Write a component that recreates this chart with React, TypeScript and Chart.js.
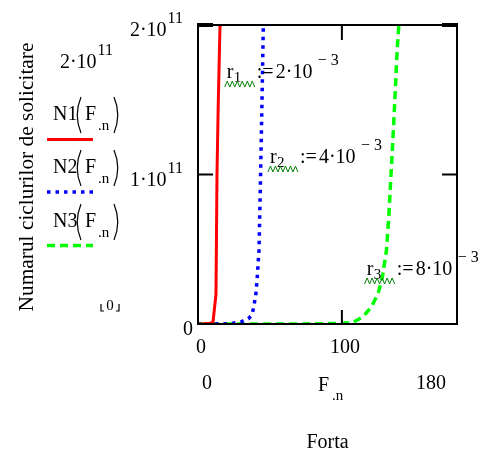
import React, { useEffect, useRef } from "react";
import { Chart, registerables } from "chart.js";

Chart.register(...registerables);

// ---- data (N in cycles, F in force units) ----
const forceN1 = [0, 4, 8, 10.4, 12.5, 13.2, 14, 15.3, 15.6];
const cyclesN1 = [0, 0.002e11, 0.005e11, 0.01e11, 0.2e11, 1.0e11, 1.44e11, 2.0e11, 2.2e11];

const forceN2 = [0, 5, 10, 15, 20, 25, 30, 35, 37.5, 38.8, 40.3, 41.2, 42.4, 43.5, 44.5, 45.4, 46];
const cyclesN2 = [0, 0, 0.0005e11, 0.001e11, 0.003e11, 0.007e11, 0.015e11, 0.035e11, 0.06e11, 0.116e11, 0.207e11, 0.316e11, 0.495e11, 1.0e11, 1.5e11, 2.0e11, 2.3e11];

const forceN3 = [0, 20, 40, 60, 80, 100, 107.6, 114.8, 120.6, 125.2, 128.2, 131, 132.6, 133.8, 135.2, 136.8, 138.4, 139.6, 140.5];
const cyclesN3 = [0, 0, 0, 0, 0.001e11, 0.005e11, 0.01e11, 0.049e11, 0.116e11, 0.205e11, 0.316e11, 0.495e11, 0.718e11, 0.941e11, 1.186e11, 1.498e11, 1.833e11, 2.0e11, 2.15e11];

const seriesNames = ["N1", "N2", "N3"];
const xMin = 0;
const xMax = 180;
const yMin = 0;
const yMax = 2e11;
const xTickValues = [0, 100];
const xTickLabels = ["0", "100"];
const yTickValues = [0, 1e11, 2e11];
const yTickBases = ["0", "1·10", "2·10"];
const yTickExps = ["", "11", "11"];
const rateSubs = ["1", "2", "3"];
const rateValues = ["2·10", "4·10", "8·10"];
const rateExp = "− 3";
const rateAnchorF = [20, 50, 117.2];
const rateAnchorN = [1.645e11, 1.077e11, 0.328e11];
const xTitle = "Forta";
const yTitle = "Numarul ciclurilor de solicitare";

const FONT = '"Liberation Serif", "Times New Roman", serif';

function toPoints(xs: number[], ys: number[]) {
  return xs.map((x, i) => ({ x, y: ys[i] }));
}

function setFont(ctx: CanvasRenderingContext2D, size: number) {
  ctx.font = `${size}px ${FONT}`;
}

function drawText(ctx: CanvasRenderingContext2D, s: string, x: number, y: number, size: number, align: CanvasTextAlign = "left") {
  setFont(ctx, size);
  ctx.textAlign = align;
  ctx.textBaseline = "alphabetic";
  ctx.fillText(s, x, y);
  return ctx.measureText(s).width;
}

function drawPowRight(ctx: CanvasRenderingContext2D, base: string, exp: string, xRight: number, y: number) {
  setFont(ctx, 20);
  const wb = ctx.measureText(base).width;
  setFont(ctx, 16);
  const we = exp ? ctx.measureText(exp).width + 1 : 0;
  const start = xRight - wb - we;
  drawText(ctx, base, start, y, 20);
  if (exp) drawText(ctx, exp, start + wb + 1, y - 13, 16);
}

function paren(ctx: CanvasRenderingContext2D, x: number, top: number, bottom: number, open: boolean) {
  const mid = (top + bottom) / 2;
  ctx.beginPath();
  if (open) {
    ctx.moveTo(x + 5, top);
    ctx.quadraticCurveTo(x - 2.5, mid, x + 5, bottom);
  } else {
    ctx.moveTo(x, top);
    ctx.quadraticCurveTo(x + 7.5, mid, x, bottom);
  }
  ctx.lineWidth = 1.2;
  ctx.strokeStyle = "#000";
  ctx.stroke();
}

function squiggle(ctx: CanvasRenderingContext2D, x0: number, x1: number, y: number) {
  ctx.beginPath();
  ctx.strokeStyle = "#008000";
  ctx.lineWidth = 1;
  ctx.setLineDash([]);
  let up = true;
  ctx.moveTo(x0, y + 6);
  for (let x = x0 + 2.5; x <= x1; x += 2.5) {
    ctx.lineTo(x, up ? y : y + 6);
    up = !up;
  }
  ctx.stroke();
}

const mathcadPlugin = {
  id: "mathcadDecor",
  afterDraw(chart: any) {
    const ctx: CanvasRenderingContext2D = chart.ctx;
    const { left, right, top, bottom } = chart.chartArea;
    const xs = chart.scales.x;
    const ys = chart.scales.y;
    ctx.save();
    ctx.fillStyle = "#000";

    // y axis tick labels
    yTickValues.forEach((v, i) => {
      const py = ys.getPixelForValue(v);
      if (yTickExps[i]) drawPowRight(ctx, yTickBases[i], yTickExps[i], left - 15, py + 11);
      else drawText(ctx, yTickBases[i], left - 5, py + 11, 20, "right");
    });

    // x axis tick labels
    xTickValues.forEach((v, i) => {
      drawText(ctx, xTickLabels[i], xs.getPixelForValue(v) + 3, bottom + 29, 20, "center");
    });
    // limits row
    drawText(ctx, String(xMin), left + 4, bottom + 65, 20, "left");
    drawText(ctx, String(xMax), right - 11, bottom + 65, 20, "right");
    const wF = drawText(ctx, "F", 318, bottom + 67, 20, "left");
    drawText(ctx, ".n", 318 + wF + 3, bottom + 76, 15, "left");
    // x title
    drawText(ctx, xTitle, (left + right) / 2, bottom + 124, 20, "center");

    // y title rotated
    ctx.save();
    ctx.translate(33, 177);
    ctx.rotate(-Math.PI / 2);
    setFont(ctx, 20);
    const tw = ctx.measureText(yTitle).width;
    const ts = 20 * 269 / tw;
    drawText(ctx, yTitle, 0, 0, ts, "center");
    ctx.restore();

    // left "legend" column
    drawPowRight(ctx, "2·10", "11", 113, 68);
    const rowBase = [120, 173, 227];
    const rowLine = [139.5, 192, 245.5];
    chart.data.datasets.forEach((ds: any, i: number) => {
      const b = rowBase[i];
      ctx.fillStyle = "#000";
      drawText(ctx, seriesNames[i], 53, b, 20, "left");
      paren(ctx, 76, b - 23, b + 13, true);
      drawText(ctx, "F", 85, b, 20, "left");
      drawText(ctx, ".n", 98, b + 10, 15, "left");
      paren(ctx, 114, b - 23, b + 13, false);
      ctx.beginPath();
      ctx.strokeStyle = ds.borderColor;
      ctx.lineWidth = ds.borderWidth;
      ctx.setLineDash(ds.borderDash || []);
      ctx.moveTo(47, rowLine[i]);
      ctx.lineTo(93, rowLine[i]);
      ctx.stroke();
      ctx.setLineDash([]);
    });
    // lower limit placeholder
    ctx.fillStyle = "#000";
    drawText(ctx, String(yMin), 110, 310, 15, "center");
    ctx.strokeStyle = "#000";
    ctx.lineWidth = 1.2;
    ctx.beginPath();
    ctx.moveTo(101, 304); ctx.lineTo(101, 311); ctx.lineTo(104, 311);
    ctx.moveTo(119, 304); ctx.lineTo(119, 311); ctx.lineTo(116, 311);
    ctx.stroke();

    // rate annotations
    rateValues.forEach((val, i) => {
      const x = xs.getPixelForValue(rateAnchorF[i]);
      const y = ys.getPixelForValue(rateAnchorN[i]);
      ctx.fillStyle = "#000";
      drawText(ctx, "r", x, y, 20, "left");
      drawText(ctx, rateSubs[i], x + 7, y + 4, 15, "left");
      drawText(ctx, ":=", x + 30, y, 20, "left");
      drawText(ctx, val, x + 49, y, 20, "left");
      drawText(ctx, rateExp, x + 91, y - 13, 16, "left");
      squiggle(ctx, x - 2, x + 29, y + 3);
    });

    // frame and ticks
    ctx.strokeStyle = "#000";
    ctx.setLineDash([]);
    ctx.lineWidth = 2;
    ctx.strokeRect(left, top, right - left, bottom - top);
    ctx.beginPath();
    [...xTickValues, xMax].forEach((v) => {
      const px = xs.getPixelForValue(v);
      ctx.moveTo(px, top); ctx.lineTo(px, top + 15);
      ctx.moveTo(px, bottom); ctx.lineTo(px, bottom - 14);
    });
    yTickValues.forEach((v) => {
      const py = ys.getPixelForValue(v);
      ctx.moveTo(left, py); ctx.lineTo(left + 15, py);
      ctx.moveTo(right, py); ctx.lineTo(right - 15, py);
    });
    ctx.stroke();
    ctx.fillRect(left - 1, top - 2, 16, 4);
    ctx.fillRect(right - 15, top - 2, 16, 4);
    ctx.restore();
  },
};

export default function App() {
  const ref = useRef<HTMLCanvasElement | null>(null);
  useEffect(() => {
    if (!ref.current) return;
    const chart = new Chart(ref.current, {
      type: "line",
      data: {
        datasets: [
          {
            label: "N1",
            data: toPoints(forceN1, cyclesN1),
            borderColor: "#ff0000",
            borderWidth: 3,
            pointRadius: 0,
            tension: 0,
            fill: false,
          },
          {
            label: "N2",
            data: toPoints(forceN2, cyclesN2),
            borderColor: "#0000ff",
            borderWidth: 3.5,
            borderDash: [3.5, 5],
            pointRadius: 0,
            tension: 0,
            fill: false,
          },
          {
            label: "N3",
            data: toPoints(forceN3, cyclesN3),
            borderColor: "#00ff00",
            borderWidth: 3.5,
            borderDash: [8, 5],
            pointRadius: 0,
            tension: 0,
            fill: false,
          },
        ],
      },
      options: {
        responsive: false,
        devicePixelRatio: 1,
        animation: false,
        layout: { padding: { left: 198, top: 25, right: 24, bottom: 127 } },
        scales: {
          x: { type: "linear", min: xMin, max: xMax, display: false },
          y: { type: "linear", min: yMin, max: yMax, display: false },
        },
        plugins: {
          legend: { display: false },
          tooltip: { enabled: false },
        },
      },
      plugins: [mathcadPlugin],
    } as any);
    return () => chart.destroy();
  }, []);
  return (
    <div style={{ position: "absolute", left: 0, top: 0, width: 481, height: 451, background: "#fff" }}>
      <canvas ref={ref} width={481} height={451} style={{ width: 481, height: 451, display: "block" }} />
    </div>
  );
}
